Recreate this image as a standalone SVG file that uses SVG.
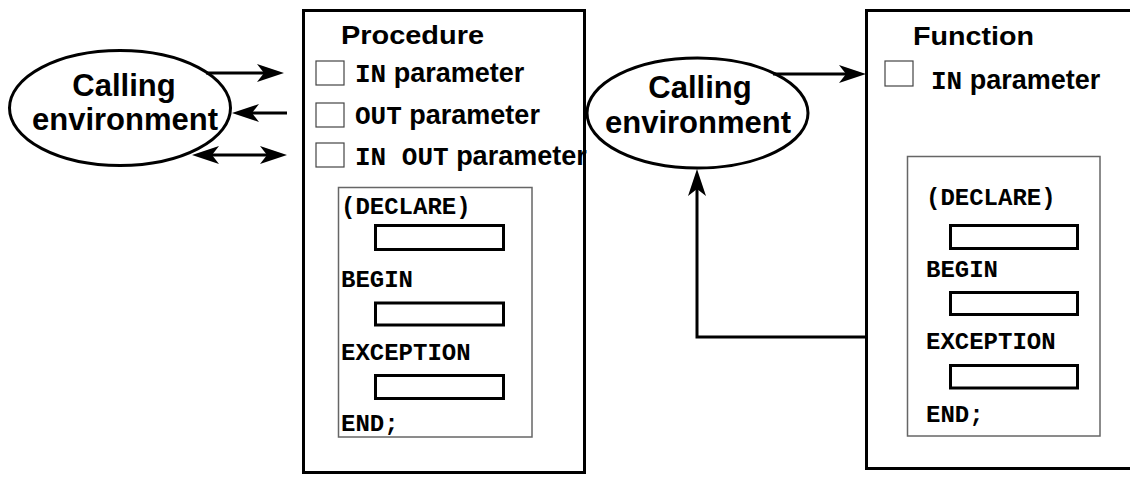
<svg xmlns="http://www.w3.org/2000/svg" width="1130" height="477" viewBox="0 0 1130 477">
<style>
  .box{fill:#fff;stroke:#000;stroke-width:3}
  .inner{fill:#fff;stroke:#666;stroke-width:1.5}
  .sq{fill:#fff;stroke:#444;stroke-width:1.2}
  .slot{fill:#fff;stroke:#000;stroke-width:3}
  .ell{fill:#fff;stroke:#000;stroke-width:3}
  .conn{fill:none;stroke:#000;stroke-width:3}
  .sans{font-family:"Liberation Sans",Arial,sans-serif;font-weight:bold;fill:#000}
  .mono{font-family:"Liberation Mono","Courier New",monospace;font-weight:bold;fill:#000}
  .env{font-size:31px;text-anchor:middle}
  .title{font-size:26px}
  .param{font-size:27px}
  .pm{font-size:26px}
  .code{font-size:24px}
</style>
<defs>
  <marker id="ah" viewBox="0 0 27 18" markerWidth="27" markerHeight="18" markerUnits="userSpaceOnUse" refX="19" refY="9" orient="auto-start-reverse">
    <path d="M0,0 L27,9 L0,18 L7,9 Z" fill="#000"/>
  </marker>
</defs>

<g id="procedure">
  <rect class="box" x="303.5" y="10.5" width="281" height="462"/>
  <text class="sans title" x="341" y="44" textLength="143" lengthAdjust="spacingAndGlyphs">Procedure</text>
  <rect class="sq" x="316" y="61" width="28" height="24"/>
  <text x="355" y="82"><tspan class="mono pm">IN</tspan><tspan class="sans param"> parameter</tspan></text>
  <rect class="sq" x="316" y="103" width="28" height="24"/>
  <text x="355" y="124"><tspan class="mono pm">OUT</tspan><tspan class="sans param"> parameter</tspan></text>
  <rect class="sq" x="316" y="143" width="28" height="24"/>
  <text x="355" y="165"><tspan class="mono pm">IN OUT</tspan><tspan class="sans param"> parameter</tspan></text>
  <rect class="inner" x="338.5" y="187.5" width="193.5" height="249.5"/>
  <text class="mono code" x="341" y="214">(DECLARE)</text>
  <rect class="slot" x="375.5" y="225.5" width="128" height="24"/>
  <text class="mono code" x="341" y="287">BEGIN</text>
  <rect class="slot" x="375.5" y="303" width="128" height="22"/>
  <text class="mono code" x="341" y="360">EXCEPTION</text>
  <rect class="slot" x="375.5" y="375.5" width="128" height="23"/>
  <text class="mono code" x="341" y="431">END;</text>
</g>

<g id="function">
  <rect class="box" x="866.5" y="10.5" width="280" height="458"/>
  <text class="sans title" x="913" y="45" textLength="121" lengthAdjust="spacingAndGlyphs">Function</text>
  <rect class="sq" x="885" y="61" width="28" height="25"/>
  <text x="931" y="89"><tspan class="mono pm">IN</tspan><tspan class="sans param"> parameter</tspan></text>
  <rect class="inner" x="907.5" y="156.5" width="192.5" height="279.5"/>
  <text class="mono code" x="926" y="205">(DECLARE)</text>
  <rect class="slot" x="950.5" y="225.5" width="127" height="23"/>
  <text class="mono code" x="926" y="277">BEGIN</text>
  <rect class="slot" x="950.5" y="292.5" width="127" height="22"/>
  <text class="mono code" x="926" y="349">EXCEPTION</text>
  <rect class="slot" x="950.5" y="365.5" width="127" height="22.5"/>
  <text class="mono code" x="926" y="422">END;</text>
</g>

<g id="calling-env-left">
  <ellipse class="ell" cx="120" cy="108" rx="110.5" ry="57.5"/>
  <text class="sans env" x="124" y="96">Calling</text>
  <text class="sans env" x="125" y="130">environment</text>
</g>

<g id="calling-env-mid">
  <ellipse class="ell" cx="697.5" cy="113" rx="110.5" ry="55"/>
  <text class="sans env" x="700" y="98">Calling</text>
  <text class="sans env" x="698" y="133">environment</text>
</g>

<g id="connectors">
  <line class="conn" x1="206" y1="73" x2="276" y2="73" marker-end="url(#ah)"/>
  <line class="conn" x1="287" y1="113" x2="240" y2="113" marker-end="url(#ah)"/>
  <line class="conn" x1="200" y1="155" x2="279" y2="155" marker-start="url(#ah)" marker-end="url(#ah)"/>
  <line class="conn" x1="773" y1="74" x2="858" y2="74" marker-end="url(#ah)"/>
  <polyline class="conn" points="866,337 697,337 697,177" marker-end="url(#ah)"/>
</g>
</svg>
